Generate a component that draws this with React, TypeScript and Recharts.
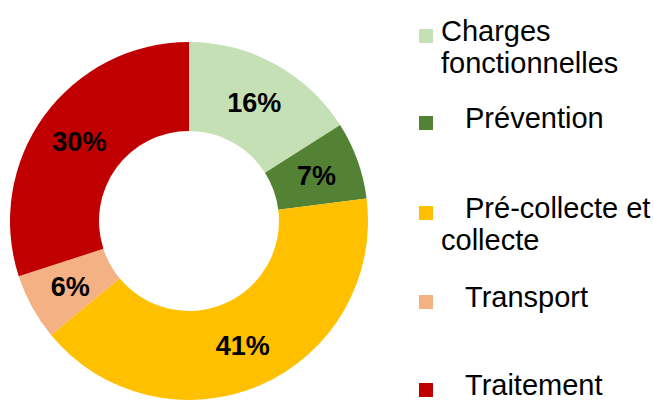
import React from 'react';
import { PieChart, Pie, Cell, Legend } from 'recharts';

const categories = ['Charges fonctionnelles', 'Prévention', 'Pré-collecte et collecte', 'Transport', 'Traitement'];
const shares = [16, 7, 41, 6, 30];
const colors = ['#C5E0B4', '#548235', '#FFC000', '#F4B183', '#C00000'];
const legendIndent = [false, true, true, true, true];
const legendBaselines = [41, 128, 218, 307, 395];

const data = categories.map((name, i) => ({ name, value: shares[i] }));

const FONT = '"Liberation Sans", Arial, Helvetica, sans-serif';
const RAD = Math.PI / 180;

const renderLabel = (props: any) => {
  const { cx, cy, midAngle, innerRadius, outerRadius, value } = props;
  const r = (innerRadius + outerRadius) / 2 + 1;
  const x = cx + r * Math.cos(-midAngle * RAD);
  const y = cy + r * Math.sin(-midAngle * RAD);
  return (
    <text x={x} y={y + 9.7} textAnchor="middle" fill="#000" fontFamily={FONT} fontWeight="bold" fontSize={27}>
      {`${value}%`}
    </text>
  );
};

const LegendContent = () => (
  <div style={{ position: 'relative', width: 654, height: 400, fontFamily: FONT }}>
    {categories.map((c, i) => {
      const base = legendBaselines[i];
      return (
        <React.Fragment key={c}>
          <div
            style={{
              position: 'absolute',
              left: 419,
              top: base - 12,
              width: 14,
              height: 14,
              background: colors[i],
            }}
          />
          <div
            style={{
              position: 'absolute',
              left: 441,
              top: base - 25.6,
              width: 213,
              fontSize: 29,
              lineHeight: '32px',
              color: '#000',
              textIndent: legendIndent[i] ? 24 : 0,
              textAlign: 'left',
              whiteSpace: 'normal',
            }}
          >
            {c}
          </div>
        </React.Fragment>
      );
    })}
  </div>
);

export default function App() {
  return (
    <div style={{ position: 'absolute', left: 0, top: 0, width: 654, height: 400, background: '#fff' }}>
      <PieChart width={654} height={400} margin={{ top: 0, right: 0, bottom: 0, left: 0 }}>
        <Pie
          data={data}
          dataKey="value"
          nameKey="name"
          cx={189}
          cy={221}
          innerRadius={90}
          outerRadius={179}
          startAngle={90}
          endAngle={-270}
          stroke="none"
          label={renderLabel}
          labelLine={false}
          isAnimationActive={false}
        >
          {data.map((d, i) => (
            <Cell key={d.name} fill={colors[i]} />
          ))}
        </Pie>
        <Legend
          content={<LegendContent />}
          wrapperStyle={{ position: 'absolute', left: 0, top: 0, width: 654, height: 400, pointerEvents: 'none' }}
        />
      </PieChart>
    </div>
  );
}
